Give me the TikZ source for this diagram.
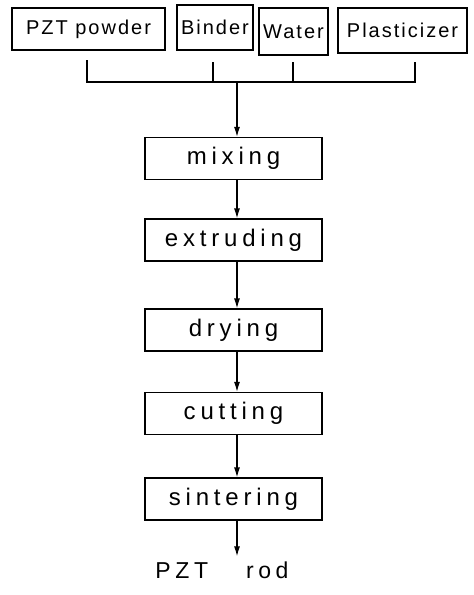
\documentclass[tikz,border=0pt]{standalone}
\usepackage{fontspec}
\setmainfont{Liberation Sans}
\newfontfamily\inputfont[LetterSpace=10]{Liberation Sans}
\newfontfamily\stepfont[LetterSpace=20]{Liberation Sans}
\usetikzlibrary{arrows.meta}

\begin{document}
\begin{tikzpicture}[x=1pt,y=-1pt,
  inbox/.style={draw, line width=1.2pt, inner sep=0pt,
    font=\inputfont\fontsize{20}{24}\selectfont},
  procbox/.style={draw, line width=1.2pt, minimum width=177pt, minimum height=42pt,
    inner sep=0pt, font=\stepfont\fontsize{24}{28}\selectfont},
  flow/.style={line width=1.2pt, -{Latex[length=10pt,width=6pt]}},
  joinline/.style={line width=1.2pt}]
\useasboundingbox (0,0) rectangle (474,595);

% raw materials
\node[inbox, minimum width=153pt, minimum height=42pt] (pzt)    at (88.5,29)  {PZT powder};
\node[inbox, minimum width=76pt,  minimum height=45pt] (binder) at (215,27.5)  {Binder};
\node[inbox, minimum width=69pt,  minimum height=47pt] (water)  at (293.5,31.5) {Water};
\node[inbox, minimum width=129pt, minimum height=45pt] (plast)  at (402.5,30.5) {Plasticizer};

% collecting line
\coordinate (bus)    at (237,82);
\coordinate (dropA)  at (87,60);
\coordinate (dropB)  at (213,62);
\coordinate (dropC)  at (293,62);
\coordinate (dropD)  at (415,62);
\draw[joinline] (dropA) |- (bus);
\draw[joinline] (dropD) |- (bus);
\draw[joinline] (dropB) -- (dropB |- bus);
\draw[joinline] (dropC) -- (dropC |- bus);

% process steps
\node[procbox] (mix)  at (233.5,158.5) {mixing};
\node[procbox] (ext)  at (233.5,240)   {extruding};
\node[procbox] (dry)  at (233.5,330)   {drying};
\node[procbox] (cut)  at (233.5,413.5) {cutting};
\node[procbox] (sint) at (233.5,499)   {sintering};
\node[inner sep=2pt, font=\stepfont\fontsize{23}{27}\selectfont] (rod) at (222,570) {PZT\hspace{38pt}rod};

\draw[flow] (bus) -- (mix.north -| bus);
\draw[flow] (mix.south -| bus)  -- (ext.north -| bus);
\draw[flow] (ext.south -| bus)  -- (dry.north -| bus);
\draw[flow] (dry.south -| bus)  -- (cut.north -| bus);
\draw[flow] (cut.south -| bus)  -- (sint.north -| bus);
\draw[flow] (sint.south -| bus) -- ([yshift=3pt]rod.north -| bus);
\end{tikzpicture}
\end{document}
